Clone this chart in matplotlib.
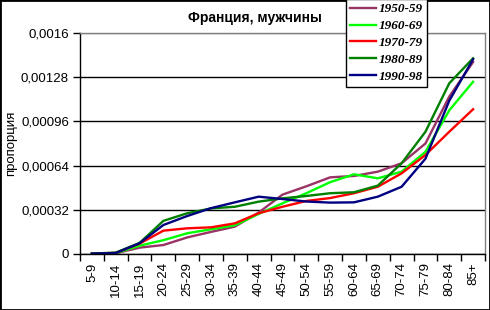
import matplotlib
matplotlib.use('Agg')
import matplotlib.pyplot as plt
from matplotlib.patches import Rectangle
from matplotlib.ticker import FixedLocator, FuncFormatter

ages = ['5-9', '10-14', '15-19', '20-24', '25-29', '30-34', '35-39', '40-44',
        '45-49', '50-54', '55-59', '60-64', '65-69', '70-74', '75-79', '80-84', '85+']

s1950 = [0.000002, 0.000005, 0.000046, 0.000065, 0.00012, 0.00016, 0.000198, 0.0003,
         0.00043, 0.00049, 0.000555, 0.000565, 0.000596, 0.000657, 0.0008, 0.00114, 0.00139]
s1960 = [0.000002, 0.000006, 0.00006, 0.0001, 0.00015, 0.000179, 0.000208, 0.00029,
         0.000367, 0.00044, 0.00052, 0.000577, 0.000548, 0.000596, 0.00074, 0.00104, 0.001247]
s1970 = [0.000003, 0.000008, 0.000075, 0.000169, 0.000186, 0.000193, 0.000222, 0.000295,
         0.000342, 0.000384, 0.000405, 0.00044, 0.000487, 0.000584, 0.000717, 0.000885, 0.001048]
s1980 = [0.000003, 0.00001, 0.00008, 0.00024, 0.000295, 0.00033, 0.000342, 0.000379,
         0.000403, 0.00042, 0.00044, 0.000447, 0.000495, 0.000657, 0.000885, 0.001236, 0.001417]
s1990 = [0.000003, 0.000007, 0.000078, 0.00021, 0.000275, 0.000332, 0.000374, 0.000415,
         0.000398, 0.00038, 0.000372, 0.000374, 0.000415, 0.000487, 0.00069, 0.00111, 0.00141]

series = [('1950-59', s1950, '#993366'),
          ('1960-69', s1960, '#00FF00'),
          ('1970-79', s1970, '#FF0000'),
          ('1980-89', s1980, '#008000'),
          ('1990-98', s1990, '#000080')]

yticks = [0, 0.00032, 0.00064, 0.00096, 0.00128, 0.0016]

plt.rcParams['font.family'] = ['Liberation Sans', 'DejaVu Sans']

fig = plt.figure(figsize=(4.9, 3.1), dpi=100)
ax = fig.add_axes([80 / 490, 56 / 310, 405 / 490, 221 / 310])

x = list(range(len(ages)))
for name, vals, col in series:
    ax.plot(x, vals, color=col, lw=1.7, label=name, solid_joinstyle='round')

ax.set_xlim(-0.5, len(ages) - 0.5)
ax.set_ylim(0, 0.0016)

ax.yaxis.set_major_locator(FixedLocator(yticks))
ax.yaxis.set_major_formatter(FuncFormatter(
    lambda v, p: '0' if v == 0 else ('%.5f' % v).rstrip('0').replace('.', ',')))
ax.grid(axis='y', color='black', lw=1)
ax.set_axisbelow(True)

ax.set_xticks(x)
ax.set_xticklabels(ages, rotation=90)
ax.set_xticks([i - 0.5 for i in range(len(ages) + 1)], minor=True)
ax.tick_params(axis='x', which='major', length=0, pad=6, labelsize=9.5)
ax.tick_params(axis='x', which='minor', length=5, width=1, direction='out')
ax.tick_params(axis='y', length=5, width=1, labelsize=9.5, pad=3)

for s in ['top', 'right']:
    ax.spines[s].set_color('#808080')
    ax.spines[s].set_linewidth(1)
for s in ['left', 'bottom']:
    ax.spines[s].set_color('black')
    ax.spines[s].set_linewidth(1)
ax.yaxis.get_gridlines()[-1].set_color('#808080')

ax.set_ylabel('пропорция', fontsize=9.5, labelpad=3)

fig.text(255 / 490, 1 - 18 / 310, 'Франция, мужчины', ha='center', va='center',
         fontsize=10, fontweight='bold')

leg = fig.legend(loc='upper left', bbox_to_anchor=(346 / 490, 1.003),
                 prop={'family': 'Liberation Serif', 'weight': 'bold',
                       'style': 'italic', 'size': 9.5},
                 frameon=True, fancybox=False, framealpha=1, edgecolor='black',
                 borderpad=0.3, labelspacing=0.35, handlelength=2.0,
                 handletextpad=0.2, borderaxespad=0)
leg.get_frame().set_linewidth(1)

fig.patches.append(Rectangle((0, 0), 1, 1, transform=fig.transFigure,
                             fill=False, edgecolor='black', lw=2, clip_on=False))

fig.savefig('out.png', dpi=100)
